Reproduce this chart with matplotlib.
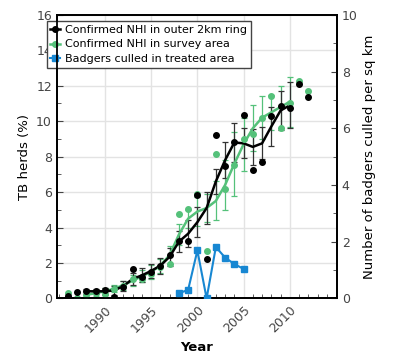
import matplotlib
matplotlib.use('Agg')
import matplotlib.pyplot as plt
import numpy as np
from matplotlib.lines import Line2D

# raw annual points
dot_years = list(range(1986, 2013))
outer_dots = [0.15, 0.37, 0.4, 0.4, 0.47, 0.1, 0.65, 1.65, 1.2, 1.5, 1.8, 2.45, 3.25, 3.25,
              5.85, 2.25, 9.2, 7.45, 8.8, 10.35, 7.25, 7.7, 10.3, 10.85, 10.75, 12.1, 11.35]
survey_dots = [0.3, 0.0, 0.2, 0.3, 0.25, 0.55, 0.7, 1.1, 1.1, 1.35, 1.75, 1.95, 4.75, 5.05,
               5.9, 2.65, 8.15, 6.2, 7.5, 9.0, 9.3, 10.2, 11.45, 9.6, 11.05, 12.25, 11.7]

# smoothed trends with error bars
trend_years = list(range(1988, 2011))
outer_trend = [0.4, 0.4, 0.4, 0.45, 0.7, 1.1, 1.3, 1.55, 1.85, 2.35, 3.2, 3.65, 4.3, 5.1,
               6.6, 7.8, 8.8, 8.75, 8.55, 8.75, 9.7, 10.6, 10.9]
outer_err = [0.15, 0.15, 0.2, 0.25, 0.3, 0.35, 0.4, 0.4, 0.45, 0.5, 0.6, 0.75, 0.85, 0.9,
             0.7, 1.0, 1.1, 0.85, 1.0, 0.9, 1.1, 1.1, 1.3]
survey_trend = [0.2, 0.3, 0.4, 0.55, 0.75, 1.0, 1.25, 1.5, 1.85, 2.45, 3.6, 4.5, 4.9, 5.1,
                5.5, 6.4, 7.6, 8.7, 9.6, 10.2, 10.5, 10.8, 11.1]
survey_err = [0.15, 0.15, 0.2, 0.2, 0.25, 0.3, 0.35, 0.4, 0.4, 0.5, 0.6, 0.5, 0.8, 0.8,
              1.1, 1.4, 1.8, 1.5, 1.3, 1.2, 1.0, 1.2, 1.4]

# badgers culled (right axis)
cull_years = [1998, 1999, 2000, 2001, 2002, 2003, 2004, 2005]
culled = [0.18, 0.3, 1.69, 0.0, 1.81, 1.44, 1.21, 1.04]

black = 'black'
green = '#55c17a'
blue = '#1787d2'

plt.rcParams['font.family'] = 'DejaVu Sans'
plt.rcParams['font.size'] = 9

fig = plt.figure(figsize=(3.95, 3.63), dpi=100)
ax = fig.add_axes([0.144, 0.178, 0.709, 0.781])
ax2 = ax.twinx()

ax.grid(True, color='#e3e3e3', linewidth=1)
ax.set_axisbelow(True)

ax.errorbar(trend_years, survey_trend, yerr=survey_err, fmt='none', ecolor=green,
            elinewidth=0.9, capsize=2, capthick=0.9, zorder=2)
ax.errorbar(trend_years, outer_trend, yerr=outer_err, fmt='none', ecolor='#333333',
            elinewidth=0.9, capsize=2, capthick=0.9, zorder=2)
ax.plot(trend_years, survey_trend, color=green, lw=1.8, zorder=3)
ax.plot(trend_years, outer_trend, color=black, lw=1.8, zorder=3)
ax.plot(dot_years, survey_dots, 'o', color=green, ms=4, zorder=4)
ax.plot(dot_years, outer_dots, 'o', color=black, ms=4, zorder=4)

ax2.plot(cull_years, culled, '-s', color=blue, lw=1.5, ms=4.5, zorder=4)

ax.set_xlim(1984.8, 2015.1)
ax.set_ylim(0, 16)
ax2.set_ylim(0, 10)

ax.set_xticks([1990, 1995, 2000, 2005, 2010])
ax.set_xticks(np.arange(1985, 2016), minor=True)
ax.set_xticklabels(['1990', '1995', '2000', '2005', '2010'],
                   rotation=45, ha='right', rotation_mode='anchor')
ax.set_yticks(np.arange(0, 17, 2))
ax.set_yticks(np.arange(1, 16, 2), minor=True)
ax2.set_yticks(np.arange(0, 11, 2))
ax2.set_yticks(np.arange(1, 10, 2), minor=True)

ax.tick_params(axis='both', which='both', direction='in', colors='#444444', labelcolor='#444444')
ax.tick_params(axis='both', which='major', length=4)
ax.tick_params(axis='both', which='minor', length=3)
ax.tick_params(axis='x', which='major', length=0)
ax2.tick_params(axis='y', which='both', direction='in', colors='#444444', labelcolor='#444444')
ax2.tick_params(axis='y', which='major', length=4)
ax2.tick_params(axis='y', which='minor', length=3)

for a in (ax, ax2):
    for s in a.spines.values():
        s.set_linewidth(1.3)
        s.set_color('black')

ax.set_xlabel('Year', fontweight='bold', fontsize=9.5)
ax.set_ylabel('TB herds (%)', fontsize=9.5)
ax2.set_ylabel('Number of badgers culled per sq km', fontsize=9.5)

handles = [Line2D([], [], color=black, lw=1.8, marker='o', ms=4),
           Line2D([], [], color=green, lw=1.8, marker='o', ms=4),
           Line2D([], [], color=blue, lw=1.5, marker='s', ms=4.5)]
labels = ['Confirmed NHI in outer 2km ring', 'Confirmed NHI in survey area',
          'Badgers culled in treated area']
leg = ax.legend(handles, labels, loc='upper left', bbox_to_anchor=(-0.037, 0.979),
                frameon=True, fancybox=False, framealpha=1, edgecolor='#444444',
                handlelength=0.9, handletextpad=0.4, borderpad=0.35, labelspacing=0.42,
                borderaxespad=0, fontsize=8.0)
leg.get_frame().set_linewidth(1.0)
leg.set_zorder(10)

fig.savefig('out.png', dpi=100)
